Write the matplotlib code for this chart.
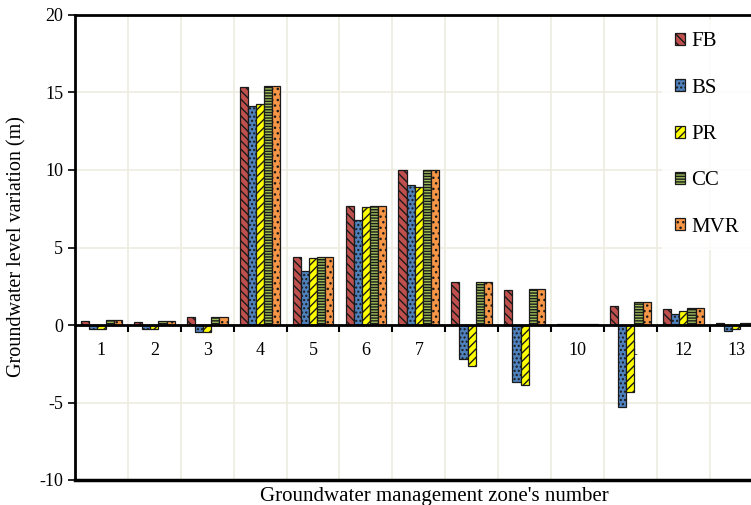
import numpy as np
import matplotlib
matplotlib.use("Agg")
import matplotlib.pyplot as plt

zones = [1, 2, 3, 4, 5, 6, 7, 8, 9, 10, 11, 12, 13]
series = ["FB", "BS", "PR", "CC", "MVR"]

fb  = [0.28, 0.22, 0.54, 15.37, 4.41, 7.68, 10.0, 2.80, 2.26, 0.04, 1.25, 1.05, 0.13]
bs  = [-0.28, -0.24, -0.43, 14.13, 3.48, 6.77, 9.03, -2.17, -3.70, 0.04, -5.30, 0.70, -0.40]
pr  = [-0.28, -0.25, -0.48, 14.24, 4.34, 7.63, 8.88, -2.62, -3.85, 0.04, -4.32, 0.88, -0.28]
cc  = [0.32, 0.25, 0.50, 15.40, 4.41, 7.66, 10.0, 2.80, 2.34, 0.04, 1.46, 1.12, 0.15]
mvr = [0.30, 0.25, 0.50, 15.40, 4.41, 7.66, 10.0, 2.75, 2.30, 0.04, 1.46, 1.12, 0.12]

values = [fb, bs, pr, cc, mvr]
colors = ["#C0504D", "#4F81BD", "#FFFF00", "#9BBB59", "#F79646"]
hatches = ["\\\\\\\\", "....", "////", "------", "..."]

plt.rcParams["font.family"] = ["Liberation Serif", "DejaVu Serif"]
plt.rcParams["axes.unicode_minus"] = False
plt.rcParams["hatch.linewidth"] = 1.0

fig = plt.figure(figsize=(7.51, 5.05), dpi=100)
ax = fig.add_axes([75 / 751, 25 / 505, 1 - 75 / 751, 465 / 505])

x = np.arange(1, len(zones) + 1)
w = 0.154
for i, (name, vals) in enumerate(zip(series, values)):
    ax.bar(x + (i - 2) * w, vals, w, color=colors[i], edgecolor="#1a1a1a",
           linewidth=0.9, hatch=hatches[i], label=name, zorder=2)

ax.set_xlim(0.5, 13.28)
ax.set_ylim(-10, 20)
ax.set_yticks([-10, -5, 0, 5, 10, 15, 20])
ax.tick_params(axis="y", labelsize=13, length=5, width=1.2, direction="out")

# boundaries carry ticks and gridlines, centres carry labels
ax.set_xticks(np.arange(1.5, 13.5, 1.0))
ax.set_xticklabels([])
ax.set_xticks(x, minor=True)
ax.set_xticklabels([str(z) for z in zones], minor=True)
ax.tick_params(axis="x", which="major", length=5, width=1.5, direction="out")
ax.tick_params(axis="x", which="minor", length=0, labelsize=13, pad=12)

ax.spines["bottom"].set_position(("data", 0))
ax.spines["bottom"].set_linewidth(2)
ax.spines["left"].set_linewidth(2)
ax.spines["top"].set_linewidth(2)
ax.spines["right"].set_visible(False)
ax.axhline(-10, color="black", lw=2.5, clip_on=False, zorder=5)

ax.set_axisbelow(True)
ax.grid(True, which="major", color="#EEECE1", lw=1.2)

fig.text(0.022, (505 - 247) / 505, "Groundwater level variation (m)",
         rotation=90, va="center", ha="center", fontsize=14.5)
fig.text(260 / 751, 9 / 505, "Groundwater management zone's number",
         ha="left", va="center", fontsize=15)

leg = ax.legend(loc="upper left", bbox_to_anchor=(662 / 751, 1 - 20 / 505),
                bbox_transform=fig.transFigure, frameon=True, fancybox=False,
                fontsize=15, handlelength=0.5, handleheight=0.5, handletextpad=0.3,
                labelspacing=1.31, borderpad=0.6, borderaxespad=0)
leg.get_frame().set_facecolor("white")
leg.get_frame().set_edgecolor("white")

fig.savefig("out.png", dpi=100)
